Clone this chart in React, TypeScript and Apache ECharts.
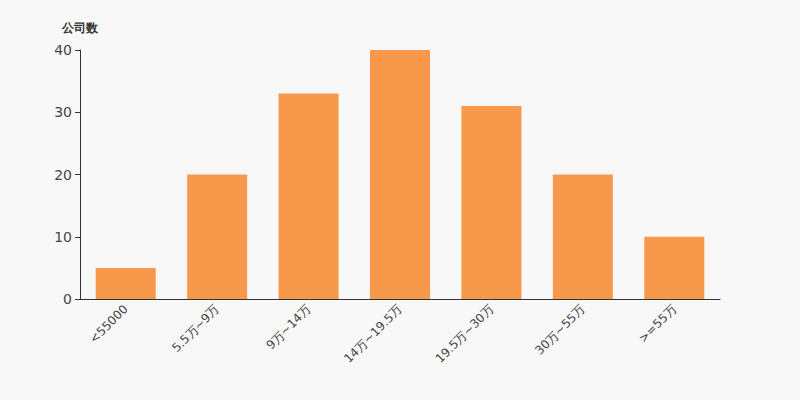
import React, { useEffect, useRef } from "react";
import * as echarts from "echarts";

const categories = ["<55000", "5.5万~9万", "9万~14万", "14万~19.5万", "19.5万~30万", "30万~55万", ">=55万"];
const companyCounts = [5, 20, 33, 40, 31, 20, 10];
const yAxisName = "公司数";

export default function App() {
  const ref = useRef<HTMLDivElement>(null);
  useEffect(() => {
    document.body.style.margin = "0";
    document.body.style.background = "#f8f8f8";
    if (!ref.current) return;
    const chart = echarts.init(ref.current, null, { renderer: "svg" });
    chart.setOption({
      animation: false,
      backgroundColor: "#f8f8f8",
      textStyle: { fontFamily: "DejaVu Sans, Liberation Sans, Arial, sans-serif" },
      grid: { left: 80, right: 80, top: 50, bottom: 101 },
      xAxis: {
        type: "category",
        data: categories,
        axisLine: { lineStyle: { color: "#333" } },
        axisTick: { length: 5, lineStyle: { color: "#333" } },
        axisLabel: { rotate: 45, color: "#444", fontSize: 12, margin: 8 },
      },
      yAxis: {
        type: "value",
        name: yAxisName,
        nameGap: 16,
        nameTextStyle: { color: "#333", fontSize: 12, fontWeight: "bold", align: "center" },
        min: 0,
        max: 40,
        interval: 10,
        splitLine: { show: false },
        axisLine: { show: true, lineStyle: { color: "#333" } },
        axisTick: { show: true, length: 5, lineStyle: { color: "#333" } },
        axisLabel: { color: "#444", fontSize: 14, margin: 8 },
      },
      series: [
        {
          type: "bar",
          data: companyCounts,
          barWidth: 60,
          itemStyle: { color: "#f7984a" },
        },
      ],
    });
    return () => chart.dispose();
  }, []);
  return <div ref={ref} style={{ width: 800, height: 400, position: "absolute", left: 0, top: 0 }} />;
}
